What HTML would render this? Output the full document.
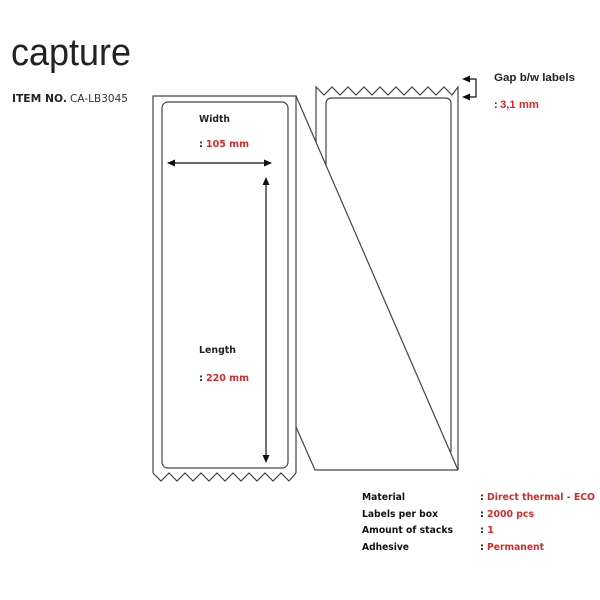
<!DOCTYPE html>
<html><head><meta charset="utf-8"><style>
html,body{margin:0;padding:0;background:#fff;}
svg{display:block;}
</style></head><body>
<svg width="600" height="600" viewBox="0 0 600 600" xmlns="http://www.w3.org/2000/svg">
<defs>
<marker id="ah" markerWidth="8" markerHeight="8" refX="7" refY="4" orient="auto" markerUnits="userSpaceOnUse">
<path d="M0,0.5 L8,4 L0,7.5 z" fill="#111"/>
</marker>
</defs>
<text x="11" y="65" font-family="Liberation Sans, sans-serif" font-size="38" fill="#222" textLength="120" lengthAdjust="spacingAndGlyphs">capture</text>
<text x="12" y="102" font-family="DejaVu Sans, sans-serif" font-size="11" font-weight="bold" fill="#222" textLength="55" lengthAdjust="spacingAndGlyphs">ITEM NO.</text>
<text x="70" y="102" font-family="DejaVu Sans, sans-serif" font-size="11" fill="#333" textLength="58" lengthAdjust="spacingAndGlyphs">CA-LB3045</text>

<g fill="none" stroke="#444" stroke-width="1.2">
<path d="M153,473 L153,96 L296,96 L296,473"/>
<polyline points="153,473 161,481 169,473 177,481 185,473 193,481 201,473 209,481 217,473 225,481 233,473 241,481 249,473 257,481 265,473 273,481 281,473 289,481 296,473"/>
<rect x="162" y="102" width="126" height="366" rx="6"/>
<polyline points="316,142 316,87 324,95 332,87 340,95 348,87 356,95 364,87 372,95 380,87 388,95 396,87 404,95 412,87 420,95 428,87 436,95 444,87 452,95 458,87 458,470"/>
<path d="M326,165 L326,104 Q326,98 332,98 L445,98 Q451,98 451,104 L451,452"/>
<line x1="296" y1="96" x2="458" y2="470"/>
<polyline points="296,427 315,470 458,470"/>
</g>

<line x1="168" y1="163" x2="271" y2="163" stroke="#111" stroke-width="1.2" marker-end="url(#ah)"/>
<path d="M167,163 L175,159.5 L175,166.5 z" fill="#111"/>
<line x1="266" y1="185" x2="266" y2="462" stroke="#111" stroke-width="1.2" marker-end="url(#ah)"/>
<path d="M266,177 L262.5,185 L269.5,185 z" fill="#111"/>
<polyline points="470,79 476,79 476,97 470,97" fill="none" stroke="#111" stroke-width="1.2"/>
<path d="M462,79 L470,75.5 L470,82.5 z" fill="#111"/>
<path d="M462,97 L470,93.5 L470,100.5 z" fill="#111"/>

<g font-family="DejaVu Sans, sans-serif" font-size="10" font-weight="bold">
<text x="199" y="122" fill="#222" textLength="31" lengthAdjust="spacingAndGlyphs">Width</text>
<text x="199" y="147" fill="#222">:</text>
<text x="206" y="147" fill="#d42a2a" textLength="43" lengthAdjust="spacingAndGlyphs">105 mm</text>
<text x="199" y="353" fill="#222" textLength="37" lengthAdjust="spacingAndGlyphs">Length</text>
<text x="199" y="381" fill="#222">:</text>
<text x="206" y="381" fill="#d42a2a" textLength="43" lengthAdjust="spacingAndGlyphs">220 mm</text>

<text x="362" y="500" fill="#111" textLength="43" lengthAdjust="spacingAndGlyphs">Material</text>
<text x="362" y="517" fill="#111" textLength="76" lengthAdjust="spacingAndGlyphs">Labels per box</text>
<text x="362" y="533" fill="#111" textLength="91" lengthAdjust="spacingAndGlyphs">Amount of stacks</text>
<text x="362" y="550" fill="#111" textLength="47" lengthAdjust="spacingAndGlyphs">Adhesive</text>
<text x="480" y="500" fill="#111">:</text>
<text x="487" y="500" fill="#d42a2a" textLength="108" lengthAdjust="spacingAndGlyphs">Direct thermal - ECO</text>
<text x="480" y="517" fill="#111">:</text>
<text x="487" y="517" fill="#d42a2a" textLength="47" lengthAdjust="spacingAndGlyphs">2000 pcs</text>
<text x="480" y="533" fill="#111">:</text>
<text x="487" y="533" fill="#d42a2a">1</text>
<text x="480" y="550" fill="#111">:</text>
<text x="487" y="550" fill="#d42a2a" textLength="57" lengthAdjust="spacingAndGlyphs">Permanent</text>
</g>
<g font-family="Liberation Sans, sans-serif" font-size="11" font-weight="bold">
<text x="494" y="81" fill="#222" textLength="81" lengthAdjust="spacingAndGlyphs">Gap b/w labels</text>
<text x="494" y="108" fill="#222">:</text>
<text x="500" y="108" fill="#d42a2a" textLength="39" lengthAdjust="spacingAndGlyphs">3,1 mm</text>
</g>
</svg>
</body></html>
